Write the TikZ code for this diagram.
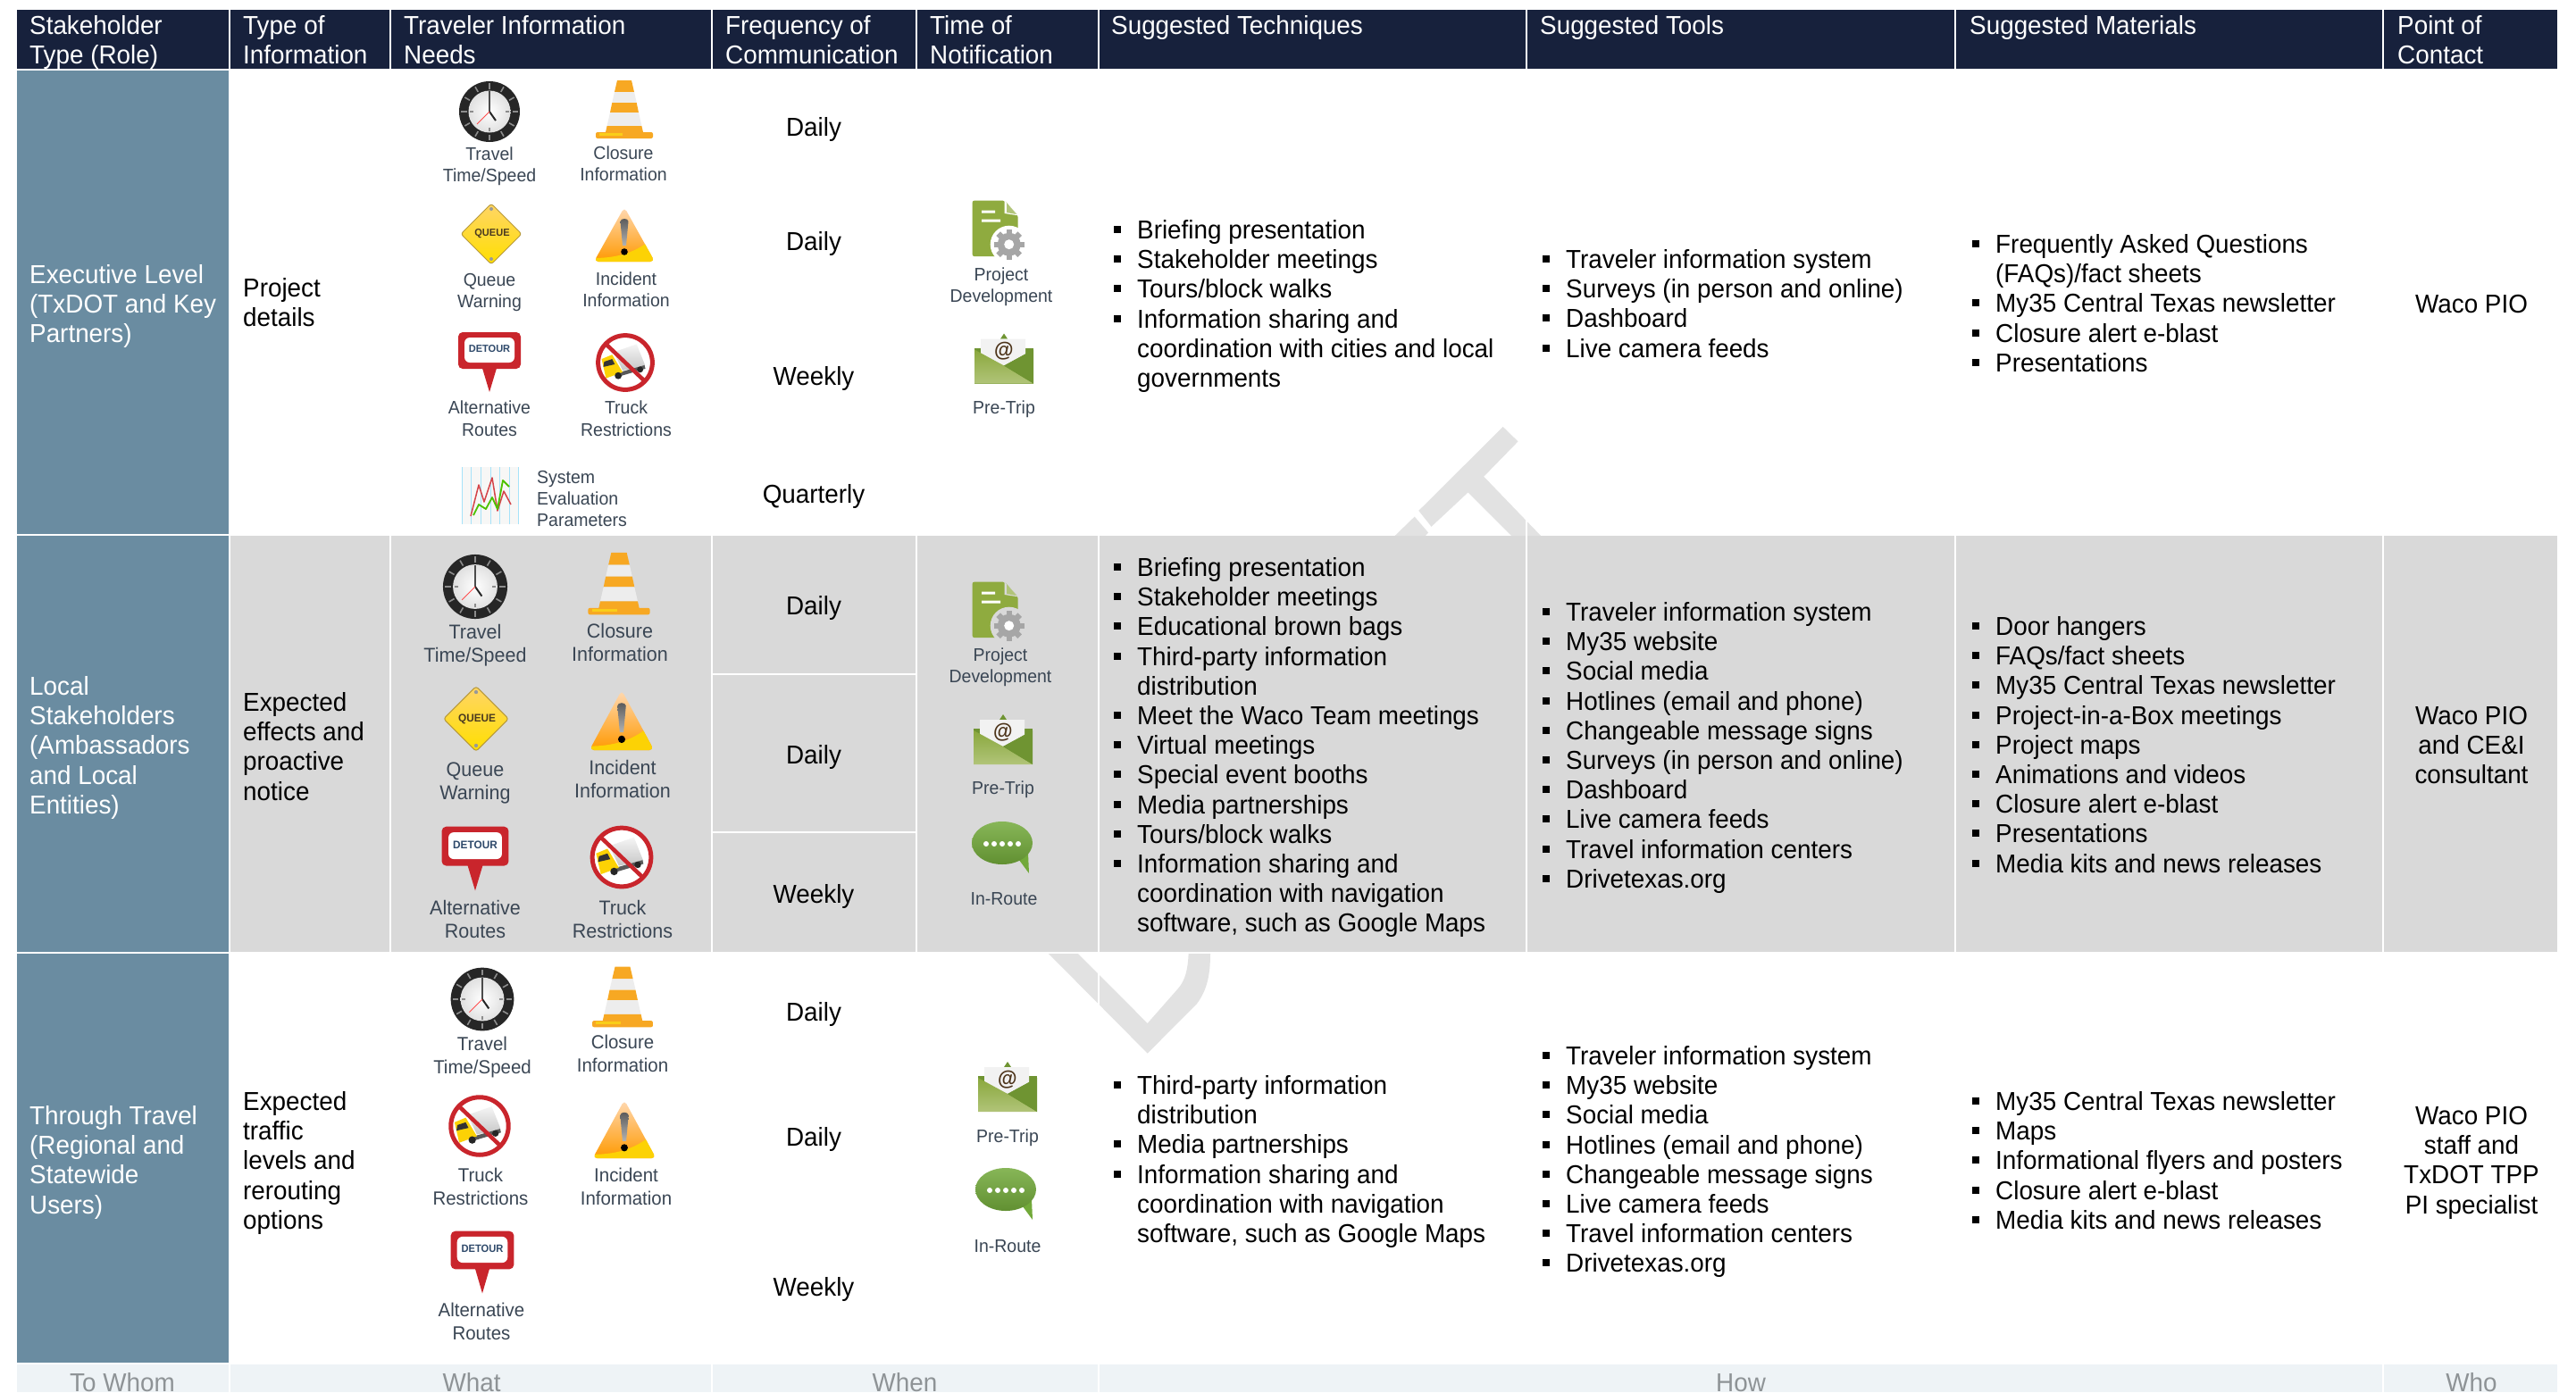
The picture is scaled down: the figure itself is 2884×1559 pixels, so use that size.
\documentclass[tikz,border=0pt]{standalone}
\usepackage{fontspec}
\setmainfont[FakeStretch=0.96]{Liberation Sans}
\definecolor{hdr}{HTML}{17213C}
\definecolor{roleblue}{HTML}{6A8CA1}
\definecolor{rowgray}{HTML}{D9D9D9}
\definecolor{foot}{HTML}{EEF3F6}
\definecolor{foottext}{HTML}{8E9396}
\definecolor{wm}{HTML}{E2E2E2}
\definecolor{labc}{HTML}{3A4654}
\definecolor{cone}{HTML}{F7A823}
\definecolor{signred}{HTML}{C9252C}
\definecolor{olive}{HTML}{8FAB3F}
\definecolor{dgreen}{HTML}{6F9432}
\definecolor{bubg}{HTML}{72A93A}
\definecolor{signtext}{HTML}{2F4A6B}
\definecolor{queuetext}{HTML}{4A3A20}
\newcommand{\bi}{\leavevmode\strut\llap{\rule[6.5pt]{8pt}{8pt}\hspace{18.5pt}}}
\tikzset{
  bodytx/.style={inner sep=0pt,yshift=13pt,font=\fontsize{29}{33.2}\selectfont},
  lft/.style={bodytx,anchor=north west,align=left},
  ctr/.style={bodytx,anchor=north,align=center},
  hd/.style={lft,text=white},
  rl/.style={lft,text=white},
  ft/.style={ctr,text=foottext},
  labA/.style={inner sep=0pt,yshift=10pt,anchor=north,align=center,text=labc,font=\fontsize{20.3}{24.3}\selectfont},
  labB/.style={inner sep=0pt,yshift=10pt,anchor=north,align=center,text=labc,font=\fontsize{22.4}{26}\selectfont},
  labC/.style={inner sep=0pt,yshift=10pt,anchor=north,align=center,text=labc,font=\fontsize{21.3}{25.2}\selectfont},
  clockicon/.pic={
    \fill[black!85] (0,0) circle (34);
    \foreach \a in {0,30,...,330}{\draw[black!45,line width=1.6pt,rotate=\a] (0,-25.5) -- (0,-32);}
    \shade[inner color=white,outer color=black!12] (0,0) circle (23.5);
    \draw[black!45,line width=1.5pt] (0,-22) -- (0,-18) (0,22) -- (0,18) (-22,0) -- (-18,0) (22,0) -- (18,0);
    \draw[black!70,line width=1.8pt] (0,0) -- (0,-23);
    \draw[black!85,line width=2pt] (0,0) -- (7,10);
    \draw[red!70!white,line width=.9pt] (0,0) -- (-14,14);
  },
  coneicon/.pic={
    \fill[cone] (-8,-32) -- (8,-32) -- (11,-19) -- (-11,-19) -- cycle;
    \fill[black!7] (-11,-19) -- (11,-19) -- (13.7,-7) -- (-13.7,-7) -- cycle;
    \fill[cone] (-13.7,-7) -- (13.7,-7) -- (16,4) -- (-16,4) -- cycle;
    \fill[black!7] (-16,4) -- (16,4) -- (19.4,19) -- (-19.4,19) -- cycle;
    \fill[cone] (-19.4,19) -- (19.4,19) -- (21,26) -- (-21,26) -- cycle;
    \fill[cone,rounded corners=2pt] (-32,26) -- (32,26) -- (32,33) -- (-32,33) -- cycle;
    \fill[yellow!50!cone] (-28,27) rectangle (-2,30);
  },
  queueicon/.pic={
    \shade[top color=yellow!45!orange!60!white,bottom color=yellow!75!orange,draw=black!45!yellow!70!orange,line width=1pt,rounded corners=3pt]
      (0,-34) -- (34,0) -- (0,34) -- (-34,0) -- cycle;
    \fill[black!40] (0,-28) circle (2) (0,28) circle (2);
    \node[inner sep=0pt,transform shape,font=\bfseries\fontsize{11.5}{12}\selectfont,text=queuetext] (-t) at (1,0) {QUEUE};
  },
  warnicon/.pic={
    \shade[top color=orange!30!white,bottom color=orange!80!yellow,rounded corners=5pt]
      (0,-31) -- (34,30) -- (-34,30) -- cycle;
    \begin{scope}
      \clip[rounded corners=5pt] (0,-31) -- (34,30) -- (-34,30) -- cycle;
      \fill[yellow!70!orange] (-34,26) .. controls (-5,26) and (15,18) .. (30,5) -- (40,32) -- (-34,32) -- cycle;
    \end{scope}
    \shade[top color=black!65,bottom color=black!30] (-4.5,-15) .. controls (-4.5,-19) and (4.5,-19) .. (4.5,-15) -- (2,12) -- (-2,12) -- cycle;
    \fill[black] (0,19) circle (3.8);
  },
  detouricon/.pic={
    \fill[signred] (-9,4) -- (0,34) -- (9,4) -- cycle;
    \fill[signred,rounded corners=5pt] (-35,-33) -- (35,-33) -- (35,8) -- (-35,8) -- cycle;
    \fill[white,rounded corners=6pt] (-28,-27) -- (28,-27) -- (28,1) -- (-28,1) -- cycle;
    \node[inner sep=0pt,transform shape,font=\bfseries\fontsize{11.5}{12}\selectfont,text=signtext] (-t) at (0,-14) {DETOUR};
  },
  truckicon/.pic={
    \fill[white] (0,0) circle (31);
    \shade[top color=black!4,bottom color=black!22] (-13,-12) -- (13,-21) -- (23,4) -- (-3,9) -- cycle;
    \fill[black!65] (-6,11) -- (22,3) -- (23,7) -- (-4,15) -- cycle;
    \fill[yellow!70!orange] (-27,-4) -- (-15,-9) -- (-3,11) -- (-22,18) -- cycle;
    \fill[black!80] (-24,-1) -- (-15,-4) -- (-12,2) -- (-25,5) -- cycle;
    \fill[black!85] (-8,15) circle (4) (17,8) circle (3.5);
    \draw[signred,line width=5pt] (0,0) circle (31);
    \draw[signred,line width=4.5pt] (-22,-21) -- (22,21);
  },
  charticon/.pic={
    \fill[yellow!8!black!4] (-32,-32) rectangle (32,32);
    \draw[cyan!35!white,line width=.8pt,step=10.6] (-32,-32) grid (32,32);
    \draw[signred!80!pink,line width=1.5pt,line join=round] (-22,23) -- (-13,-12) -- (-7,7) -- (2,-20) -- (8,17) -- (15,-5) -- (23,10);
    \draw[green!65!black!70!yellow,line width=1.8pt,line join=round] (-19,22) -- (-13,10) -- (-5,15) -- (2,2) -- (8,15) -- (14,-17) -- (21,-10);
  },
  docicon/.pic={
    \fill[olive,rounded corners=2pt] (-29.3,-32.3) -- (6.7,-32.3) -- (21.7,-15.7) -- (21.7,30) -- (-29.3,30) -- cycle;
    \fill[docbg] (6.7,-32.3) -- (6.7,-18) -- (21.7,-15.7) -- cycle;
    \fill[olive!70!white] (9,-30) -- (9,-19) -- (20,-17) -- cycle;
    \fill[white] (-19,-21.5) rectangle (-4,-18.5) (-19,-11.5) rectangle (2,-8.5);
    \fill[docbg] (11.7,16.7) circle (21);
    \fill[black!35] (11.7,16.7) circle (13);
    \foreach \a in {0,45,...,315}{\fill[black!35,shift={(11.7,16.7)},rotate=\a] (-3.2,-17) rectangle (3.2,-10);}
    \fill[white] (11.7,16.7) circle (5.5);
  },
  envicon/.pic={
    \fill[dgreen] (-33,-12) -- (33,-12) -- (33,28) -- (-33,28) -- cycle;
    \fill[dgreen] (-4,-22) -- (0,-28) -- (4,-22) -- cycle;
    \fill[black!5] (-26,-22) -- (24,-22) -- (24,-5) -- (0,8) -- (-26,-5) -- cycle;
    \shade[top color=olive!85!dgreen,bottom color=olive!70!white] (-33,-10) -- (0,8) -- (33,28) -- (-33,28) -- cycle;
    \fill[dgreen] (33,-10) -- (0,8) -- (33,28) -- cycle;
    \node[inner sep=0pt,transform shape,font=\bfseries\fontsize{23}{24}\selectfont,text=black!60!brown] (-t) at (0,-8) {@};
  },
  bubicon/.pic={
    \fill[bubg] (16,10) -- (30,29) -- (29,6) -- cycle;
    \shade[top color=bubg!85!white,bottom color=bubg!85!black] (0,-5) ellipse (34 and 24);
    \foreach \d in {-18,-9,0,9,18}{\fill[white] (\d,-4) circle (3);}
  }
}
\begin{document}
\begin{tikzpicture}[x=1pt,y=-1pt]
\path[use as bounding box,fill=white] (0,0) rectangle (2884,1559);
% watermark
\fill[wm] (1682.7,478) -- (1699.5,494.4) -- (1661.2,533.7) -- (1725,600) -- (1692,600) -- (1643.5,551.5) -- (1602.5,589.8) -- (1588.3,571.9) -- cycle;
\fill[wm] (1561.7,600) -- (1583.7,578.6) -- (1599,596.4) -- (1596,600) -- cycle;
\fill[wm] (1174,1068) -- (1284.7,1179.6) -- (1340,1124) .. controls (1352,1108) and (1355,1090) .. (1355,1068) -- (1330.6,1068) .. controls (1330,1085) and (1327,1098) .. (1319,1107) -- (1284.7,1146) -- (1207,1068) -- cycle;
% header cells
\foreach \a/\b in {19/256,258/436,438/796,798/1025,1027/1229,1231/1708,1710/2188,2190/2667,2669/2863}{
  \fill[hdr] (\a,11) rectangle (\b,77);
  \fill[rowgray] (\a,600) rectangle (\b,1066);
}
\foreach \a/\b in {19/256,258/796,798/1229,1231/2667,2669/2863}{\fill[foot] (\a,1528) rectangle (\b,1559);}
\foreach \ya/\yb in {79/598,600/1066,1068/1526}{\fill[roleblue] (19,\ya) rectangle (256,\yb);}
\draw[white,line width=2pt] (798,755) -- (1025,755) (798,932) -- (1025,932);
\foreach \x in {1230,1709}{\draw[white,line width=2pt] (\x,79) -- (\x,1526);}
% header text
\node[hd] (h0) at (33,28) {\strut Stakeholder\\Type (Role)};
\node[hd] (h1) at (272,28) {\strut Type of\\Information};
\node[hd] (h2) at (452,28) {\strut Traveler Information\\Needs};
\node[hd] (h3) at (812,28) {\strut Frequency of\\Communication};
\node[hd] (h4) at (1041,28) {\strut Time of\\Notification};
\node[hd] (h5) at (1244,28) {\strut Suggested Techniques};
\node[hd] (h6) at (1724,28) {\strut Suggested Tools};
\node[hd] (h7) at (2205,28) {\strut Suggested Materials};
\node[hd] (h8) at (2684,28) {\strut Point of\\Contact};
% role column
\node[rl] (r1) at (33,307) {\strut Executive Level\\(TxDOT and Key\\Partners)};
\node[rl] (r2) at (33,768) {\strut Local\\Stakeholders\\(Ambassadors\\and Local\\Entities)};
\node[rl] (r3) at (33,1249) {\strut Through Travel\\(Regional and\\Statewide\\Users)};
% type
\node[lft] (t1) at (272,322) {\strut Project\\details};
\node[lft] (t2) at (272,786) {\strut Expected\\effects and\\proactive\\notice};
\node[lft] (t3) at (272,1233) {\strut Expected\\traffic\\levels and\\rerouting\\options};
% frequency
\node[ctr] (f1) at (911,142) {\strut Daily};
\node[ctr] (f2) at (911,270) {\strut Daily};
\node[ctr] (f3) at (911,421) {\strut Weekly};
\node[ctr] (f4) at (911,553) {\strut Quarterly};
\node[ctr] (f5) at (911,678) {\strut Daily};
\node[ctr] (f6) at (911,845) {\strut Daily};
\node[ctr] (f7) at (911,1001) {\strut Weekly};
\node[ctr] (f8) at (911,1133) {\strut Daily};
\node[ctr] (f9) at (911,1273) {\strut Daily};
\node[ctr] (f10) at (911,1441) {\strut Weekly};
% techniques
\node[lft] (a1) at (1273,257) {\bi Briefing presentation\\\bi Stakeholder meetings\\\bi Tours/block walks\\\bi Information sharing and\\coordination with cities and local\\governments};
\node[lft] (a2) at (1273,635) {\bi Briefing presentation\\\bi Stakeholder meetings\\\bi Educational brown bags\\\bi Third-party information\\distribution\\\bi Meet the Waco Team meetings\\\bi Virtual meetings\\\bi Special event booths\\\bi Media partnerships\\\bi Tours/block walks\\\bi Information sharing and\\coordination with navigation\\software, such as Google Maps};
\node[lft] (a3) at (1273,1215) {\bi Third-party information\\distribution\\\bi Media partnerships\\\bi Information sharing and\\coordination with navigation\\software, such as Google Maps};
% tools
\node[lft] (b1) at (1753,290) {\bi Traveler information system\\\bi Surveys (in person and online)\\\bi Dashboard\\\bi Live camera feeds};
\node[lft] (b2) at (1753,685) {\bi Traveler information system\\\bi My35 website\\\bi Social media\\\bi Hotlines (email and phone)\\\bi Changeable message signs\\\bi Surveys (in person and online)\\\bi Dashboard\\\bi Live camera feeds\\\bi Travel information centers\\\bi Drivetexas.org};
\node[lft] (b3) at (1753,1182) {\bi Traveler information system\\\bi My35 website\\\bi Social media\\\bi Hotlines (email and phone)\\\bi Changeable message signs\\\bi Live camera feeds\\\bi Travel information centers\\\bi Drivetexas.org};
% materials
\node[lft] (c1) at (2234,273) {\bi Frequently Asked Questions\\(FAQs)/fact sheets\\\bi My35 Central Texas newsletter\\\bi Closure alert e-blast\\\bi Presentations};
\node[lft] (c2) at (2234,701) {\bi Door hangers\\\bi FAQs/fact sheets\\\bi My35 Central Texas newsletter\\\bi Project-in-a-Box meetings\\\bi Project maps\\\bi Animations and videos\\\bi Closure alert e-blast\\\bi Presentations\\\bi Media kits and news releases};
\node[lft] (c3) at (2234,1233) {\bi My35 Central Texas newsletter\\\bi Maps\\\bi Informational flyers and posters\\\bi Closure alert e-blast\\\bi Media kits and news releases};
% contact
\node[ctr] (d1) at (2767,340) {\strut Waco PIO};
\node[ctr] (d2) at (2767,801) {\strut Waco PIO\\and CE\&I\\consultant};
\node[ctr] (d3) at (2767,1249) {\strut Waco PIO\\staff and\\TxDOT TPP\\PI specialist};
% footer
\node[ft] (g1) at (137,1548) {\strut To Whom};
\node[ft] (g2) at (528,1548) {\strut What};
\node[ft] (g3) at (1013,1548) {\strut When};
\node[ft] (g4) at (1949,1548) {\strut How};
\node[ft] (g5) at (2767,1548) {\strut Who};
% row 1 icons
\colorlet{docbg}{white}
\pic (ck1) at (548,125) {clockicon};
\pic (cn1) at (699,122) {coneicon};
\pic (qu1) at (550,262) {queueicon};
\pic (wa1) at (699,263) {warnicon};
\pic (de1) at (548,405) {detouricon};
\pic[scale=.98] (tr1) at (700,406) {truckicon};
\pic (ch1) at (549,555) {charticon};
\pic (do1) at (1118,257) {docicon};
\pic (en1) at (1124,401.5) {envicon};
\node[labA] (l1a) at (548,172) {\strut Travel\\Time/Speed};
\node[labA] (l1b) at (698,171) {\strut Closure\\Information};
\node[labA] (l1c) at (548,313) {\strut Queue\\Warning};
\node[labA] (l1d) at (701,312) {\strut Incident\\Information};
\node[labA] (l1e) at (548,456.5) {\strut Alternative\\Routes};
\node[labA] (l1f) at (701,456.5) {\strut Truck\\Restrictions};
\node[labA,anchor=north west,align=left] (l1g) at (601,534) {\strut System\\Evaluation\\Parameters};
\node[labA] (l1h) at (1121,307) {\strut Project\\Development};
\node[labA] (l1i) at (1124,456) {\strut Pre-Trip};
% row 2 icons
\colorlet{docbg}{rowgray}
\pic[scale=1.06] (ck2) at (532,657) {clockicon};
\pic[xscale=1.08,yscale=1.07] (cn2) at (693,653) {coneicon};
\pic[scale=1.07] (qu2) at (533,805) {queueicon};
\pic[xscale=1.06,yscale=1.1] (wa2) at (696,807) {warnicon};
\pic[scale=1.07] (de2) at (532,961) {detouricon};
\pic[scale=1.06] (tr2) at (696,960) {truckicon};
\pic (do2) at (1118,684) {docicon};
\pic (en2) at (1123,828) {envicon};
\pic (bu2) at (1122,949) {bubicon};
\node[labB] (l2a) at (532,707) {\strut Travel\\Time/Speed};
\node[labB] (l2b) at (694,706) {\strut Closure\\Information};
\node[labB] (l2c) at (532,861) {\strut Queue\\Warning};
\node[labB] (l2d) at (697,859) {\strut Incident\\Information};
\node[labB] (l2e) at (532,1016) {\strut Alternative\\Routes};
\node[labB] (l2f) at (697,1016) {\strut Truck\\Restrictions};
\node[labA] (l2g) at (1120,733) {\strut Project\\Development};
\node[labA] (l2h) at (1123,882) {\strut Pre-Trip};
\node[labA] (l2i) at (1124,1006) {\strut In-Route};
% row 3 icons
\pic[scale=1.04] (ck3) at (540,1119) {clockicon};
\pic[xscale=1.06,yscale=1.04] (cn3) at (697,1116) {coneicon};
\pic[scale=1.04] (tr3) at (537,1261) {truckicon};
\pic[xscale=1.04,yscale=1.07] (wa3) at (699,1265) {warnicon};
\pic[xscale=1.01,yscale=1.04] (de3) at (540,1413) {detouricon};
\pic (en3) at (1128,1217) {envicon};
\pic (bu3) at (1126,1337) {bubicon};
\node[labC] (l3a) at (540,1169) {\strut Travel\\Time/Speed};
\node[labC] (l3b) at (697,1167) {\strut Closure\\Information};
\node[labC] (l3c) at (538,1316) {\strut Truck\\Restrictions};
\node[labC] (l3d) at (701,1316) {\strut Incident\\Information};
\node[labC] (l3e) at (539,1467) {\strut Alternative\\Routes};
\node[labA] (l3f) at (1128,1272) {\strut Pre-Trip};
\node[labA] (l3g) at (1128,1395) {\strut In-Route};
\end{tikzpicture}
\end{document}
